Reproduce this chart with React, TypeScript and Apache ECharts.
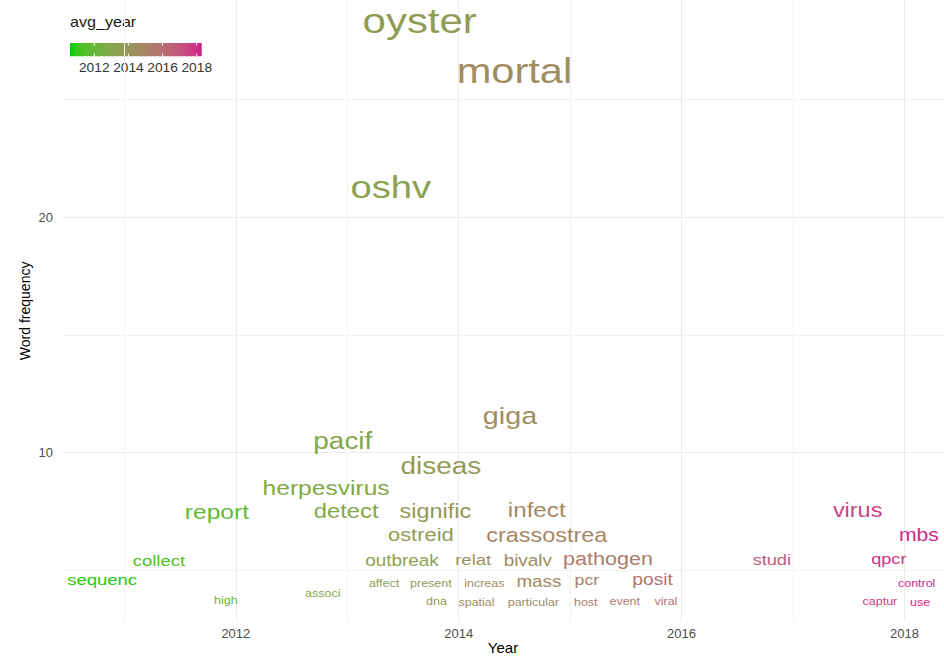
import React, { useEffect, useRef } from "react";
import * as echarts from "echarts";

// ---- data ----
const words = ["oyster","mortal","oshv","giga","pacif","diseas","herpesvirus","report","detect","signific","infect","virus","ostreid","crassostrea","mbs","collect","outbreak","relat","bivalv","pathogen","studi","qpcr","sequenc","mass","pcr","posit","affect","present","increas","control","associ","high","dna","spatial","particular","host","event","viral","captur","use"];
const avgYear = [2013.65,2014.50,2013.39,2014.46,2012.96,2013.84,2012.81,2011.83,2012.99,2013.79,2014.70,2017.58,2013.66,2014.79,2018.13,2011.31,2013.49,2014.13,2014.62,2015.34,2016.81,2017.86,2010.80,2014.72,2015.15,2015.74,2013.33,2013.75,2014.23,2018.11,2012.78,2011.91,2013.80,2014.16,2014.67,2015.14,2015.49,2015.86,2017.78,2018.14];
const freq = [28.35,26.23,21.32,11.56,10.52,9.42,8.51,7.48,7.5,7.5,7.55,7.55,6.5,6.5,6.5,5.4,5.43,5.43,5.43,5.5,5.45,5.5,4.6,4.53,4.63,4.6,4.43,4.43,4.43,4.43,4.04,3.73,3.7,3.63,3.66,3.64,3.68,3.67,3.67,3.64];
const textSize = [11.1,11.0,10.1,7.6,7.4,7.4,6.5,6.5,6.3,6.2,6.4,6.2,5.8,6.2,5.6,4.9,5.0,4.9,5.0,5.7,4.8,4.8,4.9,5.0,4.7,5.1,3.3,3.3,3.3,3.3,3.3,3.3,3.3,3.3,3.3,3.3,3.3,3.3,3.3,3.3];

const xTicks = [2012, 2014, 2016, 2018];
const xMinor = [2011, 2013, 2015, 2017];
const yTicks = [10, 20];
const yMinor = [5, 15, 25];
const legendTicks = [2012, 2014, 2016, 2018];
const colorLimits = [2010.58, 2018.29];

// ---- style ----
const LOW = "#00CD00";
const HIGH = "#D01C8B";
const FONT = "'Liberation Sans', Arial, Helvetica, sans-serif";
const SX = 1.2; // horizontal stretch of the reference text
const MM = 3.78;

function toLin(c: number) { c /= 255; return c <= 0.04045 ? c / 12.92 : Math.pow((c + 0.055) / 1.055, 2.4); }
function fromLin(c: number) { const v = c <= 0.0031308 ? 12.92 * c : 1.055 * Math.pow(c, 1 / 2.4) - 0.055; return Math.round(Math.max(0, Math.min(1, v)) * 255); }
function hexToLab(hex: string) {
  const r = toLin(parseInt(hex.slice(1, 3), 16)), g = toLin(parseInt(hex.slice(3, 5), 16)), b = toLin(parseInt(hex.slice(5, 7), 16));
  const X = (0.4124 * r + 0.3576 * g + 0.1805 * b) / 0.95047;
  const Y = 0.2126 * r + 0.7152 * g + 0.0722 * b;
  const Z = (0.0193 * r + 0.1192 * g + 0.9505 * b) / 1.08883;
  const f = (t: number) => (t > 0.008856 ? Math.cbrt(t) : 7.787 * t + 16 / 116);
  const fx = f(X), fy = f(Y), fz = f(Z);
  return [116 * fy - 16, 500 * (fx - fy), 200 * (fy - fz)];
}
function labToHex(L: number, a: number, bb: number) {
  const fy = (L + 16) / 116, fx = fy + a / 500, fz = fy - bb / 200;
  const inv = (t: number) => (t * t * t > 0.008856 ? t * t * t : (t - 16 / 116) / 7.787);
  const X = 0.95047 * inv(fx), Y = inv(fy), Z = 1.08883 * inv(fz);
  const r = 3.2406 * X - 1.5372 * Y - 0.4986 * Z;
  const g = -0.9689 * X + 1.8758 * Y + 0.0415 * Z;
  const b = 0.0557 * X - 0.204 * Y + 1.057 * Z;
  const h = (v: number) => fromLin(v).toString(16).padStart(2, "0");
  return "#" + h(r) + h(g) + h(b);
}
const labLow = hexToLab(LOW), labHigh = hexToLab(HIGH);
function colorAt(t: number) {
  t = Math.max(0, Math.min(1, t));
  return labToHex(
    labLow[0] + (labHigh[0] - labLow[0]) * t,
    labLow[1] + (labHigh[1] - labLow[1]) * t,
    labLow[2] + (labHigh[2] - labLow[2]) * t
  );
}
function yearColor(y: number) { return colorAt((y - colorLimits[0]) / (colorLimits[1] - colorLimits[0])); }

export default function App() {
  const ref = useRef<HTMLDivElement>(null);
  useEffect(() => {
    if (!ref.current) return;
    const chart = echarts.init(ref.current, undefined, { renderer: "svg" });

    const data = words.map((w, i) => ({ name: w, value: [avgYear[i], freq[i], textSize[i]] }));

    // legend geometry
    const LX = 70, LW = 131.7, LY = 43, LH = 13.3;
    const lx = (yr: number) => LX + ((yr - colorLimits[0]) / (colorLimits[1] - colorLimits[0])) * LW;
    const stops = [] as { offset: number; color: string }[];
    for (let k = 0; k <= 20; k++) stops.push({ offset: k / 20, color: colorAt(k / 20) });

    const legendEls: any[] = [
      { type: "text", x: LX, y: 21.5, scaleX: 1.15, style: { text: "avg_year", font: `14px ${FONT}`, fill: "#1a1a1a", align: "left", verticalAlign: "middle" } },
      { type: "rect", shape: { x: LX, y: LY, width: LW, height: LH }, style: { fill: new echarts.graphic.LinearGradient(0, 0, 1, 0, stops) } },
    ];
    legendTicks.forEach((t) => {
      const x = lx(t);
      legendEls.push({ type: "line", shape: { x1: x, y1: LY, x2: x, y2: LY + LH / 5 }, style: { stroke: "#ffffff", lineWidth: 1 } });
      legendEls.push({ type: "line", shape: { x1: x, y1: LY + LH - LH / 5, x2: x, y2: LY + LH }, style: { stroke: "#ffffff", lineWidth: 1 } });
      legendEls.push({ type: "text", x, y: 67.5, scaleX: 1.1, style: { text: String(t), font: `12.5px ${FONT}`, fill: "#333333", align: "center", verticalAlign: "middle" } });
    });

    const gridLines = [
      ...xMinor.map((v) => ({ xAxis: v, lineStyle: { color: "#F2F2F2", width: 1 } })),
      ...yMinor.map((v) => ({ yAxis: v, lineStyle: { color: "#F2F2F2", width: 1 } })),
      ...xTicks.map((v) => ({ xAxis: v, lineStyle: { color: "#EBEBEB", width: 1 } })),
      ...yTicks.map((v) => ({ yAxis: v, lineStyle: { color: "#EBEBEB", width: 1 } })),
    ];

    chart.setOption({
      animation: false,
      backgroundColor: "#ffffff",
      grid: { left: 62, right: 0, top: 0, bottom: 38.3, containLabel: false, outerBoundsMode: "none" },
      xAxis: {
        type: "value",
        min: 2010.44,
        max: 2018.355,
        name: "Year",
        nameLocation: "middle",
        nameGap: 25.6,
        nameMoveOverlap: false,
        nameTextStyle: { fontFamily: FONT, fontSize: 15, color: "#000000", verticalAlign: "middle" },
        axisLine: { show: false },
        axisTick: { show: false },
        splitLine: { show: false },
        axisLabel: { customValues: xTicks, formatter: (v: number) => String(v), margin: 5, fontFamily: FONT, fontSize: 13, color: "#4D4D4D", showMinLabel: true, showMaxLabel: true },
      },
      yAxis: {
        type: "value",
        min: 2.82,
        max: 29.23,
        name: "Word frequency",
        nameLocation: "middle",
        nameRotate: 90,
        nameGap: 30,
        nameMoveOverlap: false,
        nameTextStyle: { fontFamily: FONT, fontSize: 14, color: "#000000" },
        axisLine: { show: false },
        axisTick: { show: false },
        splitLine: { show: false },
        axisLabel: { customValues: yTicks, formatter: (v: number) => String(v), margin: 9, fontFamily: FONT, fontSize: 13, color: "#4D4D4D" },
      },
      graphic: { elements: legendEls },
      series: [
        {
          type: "line",
          data: [],
          silent: true,
          z: 1,
          markLine: { silent: true, symbol: "none", label: { show: false }, lineStyle: { type: "solid" }, data: gridLines },
        },
        {
          type: "custom",
          z: 5,
          clip: false,
          data,
          renderItem: (params: any, api: any) => {
            const pt = api.coord([api.value(0), api.value(1)]);
            const i = params.dataIndex;
            return {
              type: "text",
              x: pt[0],
              y: pt[1],
              scaleX: SX,
              style: {
                text: words[i],
                fontFamily: FONT,
                fontSize: (api.value(2) * MM) / SX,
                fill: yearColor(avgYear[i]),
                align: "center",
                verticalAlign: "middle",
              },
            };
          },
        },
      ],
    });
    return () => chart.dispose();
  }, []);
  return <div ref={ref} style={{ position: "fixed", left: 0, top: 0, width: 944, height: 660, background: "#fff" }} />;
}
